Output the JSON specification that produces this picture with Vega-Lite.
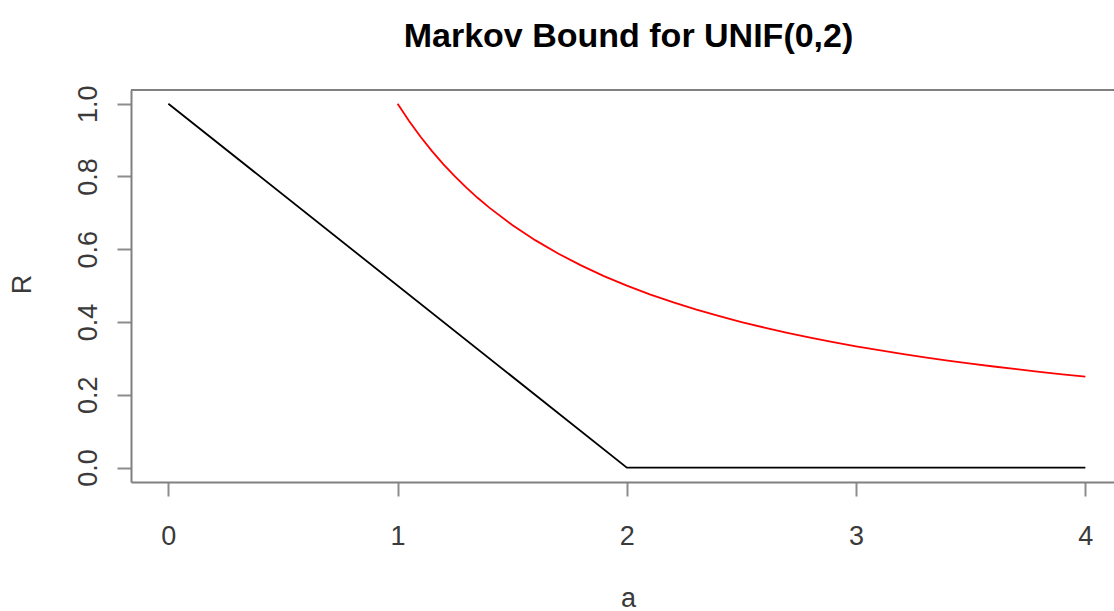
{
  "$schema": "https://vega.github.io/schema/vega-lite/v6.json",
  "autosize": "none",
  "width": 983,
  "height": 392,
  "padding": {"left": 131, "top": 90, "right": 0, "bottom": 129},
  "background": "white",
  "config": {"view": {"stroke": null}, "font": "Liberation Sans"},
  "title": {
    "text": "Markov Bound for UNIF(0,2)",
    "fontSize": 34,
    "fontWeight": "bold",
    "font": "Liberation Sans",
    "color": "black",
    "anchor": "middle",
    "frame": "group",
    "baseline": "alphabetic",
    "offset": 4,
    "dx": 6
  },
  "layer": [
    {
      "data": {
        "values": [
          {"a": 0, "R": 1, "series": "actual"},
          {"a": 2, "R": 0, "series": "actual"},
          {"a": 4, "R": 0, "series": "actual"},
          {"a": 1.0, "R": 1.0, "series": "markov"},
          {"a": 1.05, "R": 0.9524, "series": "markov"},
          {"a": 1.1, "R": 0.9091, "series": "markov"},
          {"a": 1.15, "R": 0.8696, "series": "markov"},
          {"a": 1.2, "R": 0.8333, "series": "markov"},
          {"a": 1.25, "R": 0.8, "series": "markov"},
          {"a": 1.3, "R": 0.7692, "series": "markov"},
          {"a": 1.35, "R": 0.7407, "series": "markov"},
          {"a": 1.4, "R": 0.7143, "series": "markov"},
          {"a": 1.5, "R": 0.6667, "series": "markov"},
          {"a": 1.6, "R": 0.625, "series": "markov"},
          {"a": 1.7, "R": 0.5882, "series": "markov"},
          {"a": 1.8, "R": 0.5556, "series": "markov"},
          {"a": 1.9, "R": 0.5263, "series": "markov"},
          {"a": 2.0, "R": 0.5, "series": "markov"},
          {"a": 2.1, "R": 0.4762, "series": "markov"},
          {"a": 2.2, "R": 0.4545, "series": "markov"},
          {"a": 2.3, "R": 0.4348, "series": "markov"},
          {"a": 2.4, "R": 0.4167, "series": "markov"},
          {"a": 2.5, "R": 0.4, "series": "markov"},
          {"a": 2.6, "R": 0.3846, "series": "markov"},
          {"a": 2.7, "R": 0.3704, "series": "markov"},
          {"a": 2.8, "R": 0.3571, "series": "markov"},
          {"a": 2.9, "R": 0.3448, "series": "markov"},
          {"a": 3.0, "R": 0.3333, "series": "markov"},
          {"a": 3.1, "R": 0.3226, "series": "markov"},
          {"a": 3.2, "R": 0.3125, "series": "markov"},
          {"a": 3.3, "R": 0.303, "series": "markov"},
          {"a": 3.4, "R": 0.2941, "series": "markov"},
          {"a": 3.5, "R": 0.2857, "series": "markov"},
          {"a": 3.6, "R": 0.2778, "series": "markov"},
          {"a": 3.7, "R": 0.2703, "series": "markov"},
          {"a": 3.8, "R": 0.2632, "series": "markov"},
          {"a": 3.9, "R": 0.2564, "series": "markov"},
          {"a": 4.0, "R": 0.25, "series": "markov"}
        ]
      },
      "mark": {"type": "line", "strokeWidth": 1.8},
      "encoding": {
        "x": {
          "field": "a",
          "type": "quantitative",
          "scale": {"domain": [-0.163, 4.125], "nice": false, "zero": false},
          "axis": {
            "values": [0, 1, 2, 3, 4],
            "grid": false,
            "domainColor": "#808080",
            "domainWidth": 2,
            "tickColor": "#8c8c8c",
            "tickWidth": 2,
            "tickSize": 14,
            "labelFontSize": 27,
            "labelColor": "#3a3a3a",
            "labelPadding": 27,
            "labelBaseline": "top",
            "labelFlush": false,
            "title": "a",
            "titleFontSize": 27,
            "titleFontWeight": "normal",
            "titleColor": "#3a3a3a",
            "titleX": 497,
            "titleY": 116,
            "titleBaseline": "middle",
            "titleAlign": "center"
          }
        },
        "y": {
          "field": "R",
          "type": "quantitative",
          "scale": {"domain": [-0.0396, 1.0376], "nice": false, "zero": false},
          "axis": {
            "values": [0, 0.2, 0.4, 0.6, 0.8, 1.0],
            "format": ".1f",
            "grid": false,
            "domainColor": "#808080",
            "domainWidth": 2,
            "tickColor": "#8c8c8c",
            "tickWidth": 2,
            "tickSize": 14,
            "labelFontSize": 27,
            "labelColor": "#3a3a3a",
            "labelAngle": 270,
            "labelAlign": "center",
            "labelBaseline": "middle",
            "labelPadding": 29,
            "labelFlush": false,
            "title": "R",
            "titleFontSize": 27,
            "titleFontWeight": "normal",
            "titleColor": "#3a3a3a",
            "titleAngle": 270,
            "titleX": -108.5,
            "titleY": 194,
            "titleBaseline": "middle",
            "titleAlign": "center"
          }
        },
        "color": {
          "field": "series",
          "type": "nominal",
          "scale": {"domain": ["actual", "markov"], "range": ["#000000", "#ff0000"]},
          "legend": null
        }
      }
    },
    {
      "data": {"values": [{"top": 1.0376}]},
      "mark": {"type": "rule", "color": "#808080", "strokeWidth": 2},
      "encoding": {"y": {"field": "top", "type": "quantitative"}}
    }
  ]
}
